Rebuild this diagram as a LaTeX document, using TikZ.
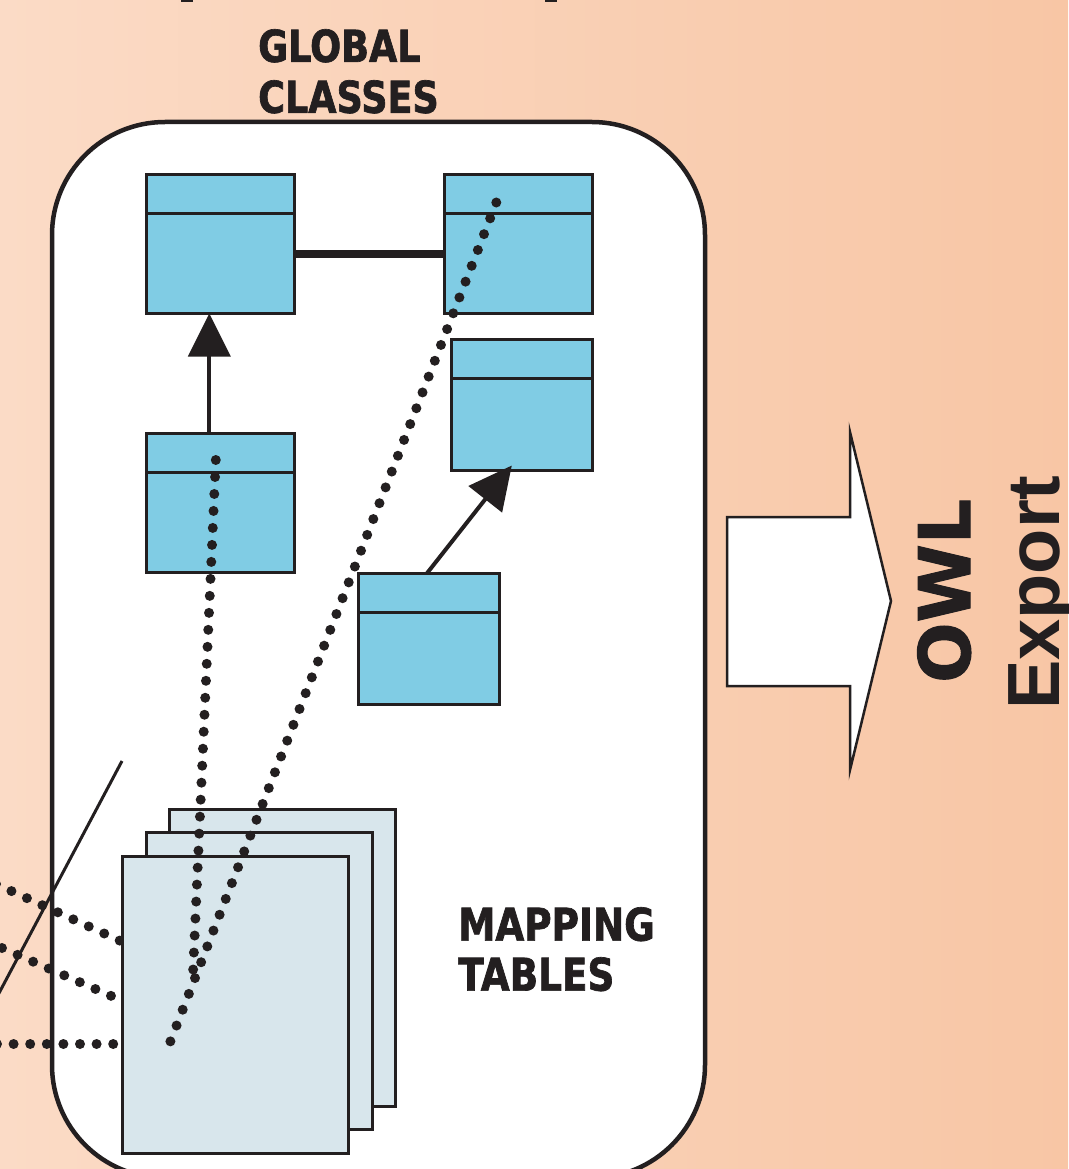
\documentclass[tikz,border=0pt]{standalone}
\usepackage{fontspec}
\usepackage{tikz}
\usetikzlibrary{arrows.meta}
\usetikzlibrary{calc}
\usetikzlibrary{positioning}

\definecolor{ink}{RGB}{35,31,32}
\definecolor{classblue}{RGB}{128,204,228}
\definecolor{tableblue}{RGB}{216,230,236}
\definecolor{peachleft}{RGB}{251,219,198}
\definecolor{peachright}{RGB}{248,198,165}

\newfontfamily\tagfont[FakeStretch=0.83, BoldFeatures={FakeBold=1.5}]{DejaVu Sans}
\newfontfamily\owlfont[BoldFeatures={FakeBold=1.5}]{DejaVu Sans}
\newfontfamily\exportfont{Liberation Sans}

\tikzset{
    class box/.style={
        draw=ink,
        fill=classblue,
        line width=3pt,
        inner sep=0pt,
        outer sep=0pt,
        minimum width=148pt,
        minimum height=139pt,
        path picture={
            \draw[ink, line width=3pt]
              ([yshift=-38.5pt]path picture bounding box.north west) --
              ([yshift=-38.5pt]path picture bounding box.north east);
        }
    },
    small box/.style={
        minimum width=141pt,
        minimum height=131pt
    },
    table page/.style={
        draw=ink,
        fill=tableblue,
        line width=3pt,
        inner sep=0pt,
        anchor=north west,
        minimum width=226pt,
        minimum height=297pt
    },
    map dots/.style={
        draw=ink,
        line width=10pt,
        line cap=round,
        dash pattern=on 0pt off 17pt
    },
    generalize/.style={
        draw=ink,
        line width=4pt,
        -{Triangle[length=43pt,width=42pt]}
    },
    label text/.style={
        text=ink,
        inner sep=0pt,
        align=left,
        anchor=north west
    }
}

\begin{document}
\begin{tikzpicture}[x=1pt,y=-1pt]
    \useasboundingbox (0,0) rectangle (1068,1169);
    \clip (0,0) rectangle (1068,1169);
    \shade[left color=peachleft, right color=peachright] (0,0) rectangle (1068,1169);

    % bits of the heading above
    \draw[ink, line width=3pt] (181,0.5) -- (193,0.5);
    \draw[ink, line width=3pt] (545,0.5) -- (557,0.5);

    % global schema frame
    \node[draw=ink, fill=white, line width=4.5pt, rounded corners=113pt, outer sep=0pt,
          anchor=north west, minimum width=653pt, minimum height=1056pt] (frame) at (52,122) {};

    \node[label text, font=\tagfont\bfseries\fontsize{44}{51}\selectfont] (global) at (258,29) {GLOBAL\\CLASSES};

    % classes
    \node[class box] (box1) at (220.3,244) {};
    \node[class box, right=150pt of box1] (box2) {};
    \node[class box, small box, below left=26pt and 0pt of box2.south east] (box3) {};
    \node[class box, below=120pt of box1] (box4) {};
    \node[class box, small box, anchor=north west] (box5) at ($(box4.south east)+(64,1)$) {};

    \draw[ink, line width=8pt] ([yshift=-10pt]box1.east) -- ([yshift=-10pt]box2.west);
    \draw[generalize] ([xshift=-11pt]box4.north) -- ([xshift=-11pt]box1.south);
    \draw[generalize] ([xshift=-2pt]box5.north) -- ([shift={(-10pt,5pt)}]box3.south);

    % incoming mappings
    \coordinate (src1) at (-4,884);
    \coordinate (src2) at (2,948);
    \coordinate (src3) at (-3,1044);
    \coordinate (cut1) at (122,761);
    \coordinate (cut2) at (-2,995);
    \draw[ink, line width=3pt] (cut1) -- (cut2);

    \draw[map dots] (src1) -- ($(frame.north west)+(73,821)$);
    \draw[map dots] (src2) -- ($(frame.north west)+(73,880)$);
    \draw[map dots, dash pattern=on 0pt off 16.6pt] (src3) -- ($(frame.north west)+(73,922)$);

    % mapping tables
    \foreach \n/\x/\y in {back/168/808, middle/145/831, front/121/855}
      \node[table page] (\n) at (\x,\y) {};

    \coordinate (map1) at ($(front.north west)+(72,118)$);
    \coordinate (map2) at ($(front.north west)+(48,190)$);
    \draw[map dots] ($(box4.north west)+(69.5,26.5)$) -- (map1);
    \draw[map dots, dash pattern=on 0pt off 16.98pt] ($(box2.north west)+(52,28)$) -- (map2);

    \node[label text, font=\tagfont\bfseries\fontsize{45}{50}\selectfont] (mapping) at (458,907) {MAPPING\\TABLES};

    % export arrow
    \draw[ink, line width=2.5pt, fill=white]
      (727,517) -- (850,517) -- (850,432) -- (891,601) -- (850,770) -- (850,686) -- (727,686) -- cycle;

    \node[rotate=90, anchor=base west, text=ink, inner sep=0pt,
          font=\owlfont\bfseries\fontsize{71}{80}\selectfont] (owl) at (970,683) {OWL};
    \node[rotate=90, anchor=base west, text=ink, inner sep=0pt,
          font=\exportfont\bfseries\fontsize{74}{80}\selectfont] (export) at (1059,710) {Export};
\end{tikzpicture}
\end{document}
